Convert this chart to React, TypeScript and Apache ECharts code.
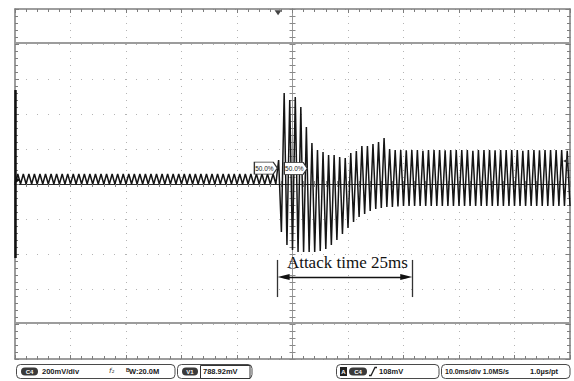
import React, { useEffect, useRef } from "react";
import * as echarts from "echarts";

// ---- Data read from the oscilloscope capture (C4, 200 mV/div, 10 ms/div) ----
// Pre-trigger ripple: trough / peak of every 1 ms cycle, in mV
const preTriggerTroughsMv = [
  2, 0, 0, 0, 0, 0, 0, 0, 0, 0, 0, 0, 0, 0, 0, 0, 0, 0, 0, 0, 0, 0, 0, 0,
  0, 0, 0, 0, 0, 0, 0, 0, 0, 0, 0, 0, 0, 0, 0, 0, 0, 0, 0, 0, 0, 0, 0, 0,
];
const preTriggerPeaksMv = [
  57, 57, 57, 57, 57, 57, 57, 57, 57, 57, 57, 57, 57, 57, 57, 57, 57, 57, 57, 57,
  57, 57, 57, 57, 57, 57, 57, 57, 57, 57, 57, 57, 57, 57, 57, 57, 57, 57, 57, 57,
  57, 57, 57, 57, 57, 57, 57,
];
// After the trigger: peak / trough of every 1 ms cycle, in mV
const burstPeaksMv = [
  137, 520, 480, 497, 440, 326, 234, 194, 183, 166, 166, 154, 149, 177, 189, 217,
  217, 229, 240, 263, 200, 194, 194, 192, 194, 194, 190, 194, 194, 194, 192, 194,
  194, 194, 194, 190, 194, 194, 194, 192, 194, 194, 194, 194, 190, 194, 194, 192,
  194, 194, 194, 194, 190,
];
const burstTroughsMv = [
  -274, -349, -377, -389, -389, -389, -389, -383, -371, -349, -320, -286, -251,
  -217, -189, -171, -154, -143, -137, -131, -131, -128, -126, -126, -126, -126,
  -126, -126, -126, -126, -126, -126, -126, -126, -126, -126, -126, -126, -126,
  -126, -126, -126, -126, -126, -126, -126, -126, -126, -126, -126, -126, -126,
  -126,
];
const traceStartMs = -50;
const halfCycleMs = 0.5;

// Axes (10 div x 10 div)
const timeRangeMs = [-50, 50];
const timeDivMs = 10;
const voltRangeMv = [-1000, 1000];
const voltDivMv = 200;

// Annotations
const cursorLevelsMv = [806, -794];
const triggerTimeMs = -2.6;
const attackStartMs = -2.7;
const attackEndMs = 21.6;
const attackText = "Attack time 25ms";
const percentLabel = "50.0%";

// Status bar texts
const chScale = "200mV/div";
const bwText = "W:20.0M";
const cursorText = "788.92mV";
const trigLevel = "108mV";
const timebase = "10.0ms/div 1.0MS/s";
const sampleText = "1.0\u00b5s/pt";

const extremes: number[] = [];
for (let i = 0; i < preTriggerTroughsMv.length; i++) {
  extremes.push(preTriggerTroughsMv[i]);
  if (i < preTriggerPeaksMv.length) extremes.push(preTriggerPeaksMv[i]);
}
for (let k = 0; k < burstPeaksMv.length; k++) {
  extremes.push(burstPeaksMv[k]);
  extremes.push(burstTroughsMv[k]);
}
const trace = extremes.map((v, i) => [traceStartMs + i * halfCycleMs, v]);

const BORDER = "#7d7d7d";
const SANS = '"Liberation Sans", Arial, sans-serif';
const font = (s: number, w = "bold") => `${w} ${s}px ${SANS}`;

function xAx(position: string, extra: any) {
  return {
    type: "value",
    min: timeRangeMs[0],
    max: timeRangeMs[1],
    interval: timeDivMs,
    position,
    axisLabel: { show: false },
    splitLine: { show: false },
    ...extra,
  };
}
function yAx(position: string, extra: any) {
  return {
    type: "value",
    min: voltRangeMv[0],
    max: voltRangeMv[1],
    interval: voltDivMv,
    position,
    axisLabel: { show: false },
    splitLine: { show: false },
    ...extra,
  };
}
const borderLine = { show: true, onZero: false, lineStyle: { color: BORDER, width: 1.5 } };
const tick = { show: true, inside: true, length: 4, lineStyle: { color: BORDER, width: 1 } };
const minor = { show: true, splitNumber: 5, length: 3, lineStyle: { color: BORDER, width: 1 } };
const cTick = { show: true, inside: true, length: 3, lineStyle: { color: "#888", width: 1 } };
const cMinor = { show: true, splitNumber: 5, length: 3, lineStyle: { color: "#888", width: 1 } };

function pill(x: number, w: number, label: string) {
  return [
    { type: "rect", shape: { x, y: 367.5, width: w, height: 8, r: 4 }, style: { fill: "#3a3a3a" } },
    {
      type: "text",
      x: x + w / 2,
      y: 371.5,
      style: { text: label, fill: "#fff", font: font(6), align: "center", verticalAlign: "middle" },
    },
  ];
}
function box(x: number, w: number) {
  return {
    type: "rect",
    shape: { x, y: 364.5, width: w, height: 14, r: 4 },
    style: { fill: "#fff", stroke: "#4a4a4a", lineWidth: 1 },
  };
}
function txt(x: number, text: string, size = 7.5, y = 371.5) {
  return {
    type: "text",
    x,
    y,
    style: { text, fill: "#1a1a1a", font: font(size), align: "left", verticalAlign: "middle" },
  };
}

export default function App() {
  const ref = useRef<HTMLDivElement>(null);
  useEffect(() => {
    if (!ref.current) return;
    const chart = echarts.init(ref.current, undefined, { renderer: "svg" });
    const labelBox = {
      symbol: "path://M0 0H18L22 6L18 12H0Z",
      symbolSize: [23, 12],
      itemStyle: { color: "#fff", borderColor: "#333", borderWidth: 1 },
      label: {
        show: true,
        formatter: percentLabel,
        position: "inside",
        offset: [-1.5, 0],
        fontSize: 6.5,
        fontFamily: SANS,
        color: "#222",
      },
    };
    chart.setOption({
      animation: false,
      backgroundColor: "#fff",
      grid: { left: 15, top: 9, width: 555, height: 350, containLabel: false },
      xAxis: [
        xAx("bottom", {
          axisLine: borderLine,
          axisTick: tick,
          minorTick: minor,
          splitLine: { show: true, lineStyle: { color: "#b4b4b4", width: 1, type: [1, 6] } },
        }),
        xAx("top", { axisLine: borderLine, axisTick: tick, minorTick: minor }),
        xAx("bottom", {
          axisLine: { show: true, onZero: true, onZeroAxisIndex: 0, lineStyle: { color: "#2a2a2a", width: 1 } },
          axisTick: cTick,
          minorTick: cMinor,
        }),
        xAx("top", {
          axisLine: { show: true, onZero: true, onZeroAxisIndex: 0, lineStyle: { color: "#2a2a2a", width: 1 } },
          axisTick: cTick,
          minorTick: cMinor,
        }),
      ],
      yAxis: [
        yAx("left", {
          axisLine: borderLine,
          axisTick: tick,
          minorTick: minor,
          splitLine: { show: true, lineStyle: { color: "#b4b4b4", width: 1, type: [1, 10] } },
        }),
        yAx("right", { axisLine: borderLine, axisTick: tick, minorTick: minor }),
        yAx("left", {
          axisLine: { show: true, onZero: true, onZeroAxisIndex: 0, lineStyle: { color: "#999", width: 1 } },
          axisTick: cTick,
          minorTick: cMinor,
        }),
        yAx("right", {
          axisLine: { show: true, onZero: true, onZeroAxisIndex: 0, lineStyle: { color: "#999", width: 1 } },
          axisTick: cTick,
          minorTick: cMinor,
        }),
      ],
      series: [
        {
          type: "line",
          data: trace,
          xAxisIndex: 0,
          yAxisIndex: 0,
          showSymbol: false,
          symbol: "none",
          z: 3,
          lineStyle: { color: "#151515", width: 1.5 },
          markLine: {
            silent: true,
            symbol: "none",
            label: { show: false },
            data: [
              [
                { coord: [timeRangeMs[0], 537], lineStyle: { color: "#111", width: 2.5, type: "solid" } },
                { coord: [timeRangeMs[0], -423] },
              ],
              { yAxis: cursorLevelsMv[0], lineStyle: { color: "#9c9c9c", width: 2, type: "solid" } },
              { yAxis: cursorLevelsMv[1], lineStyle: { color: "#9c9c9c", width: 2, type: "solid" } },
              [
                { coord: [attackStartMs, -434], lineStyle: { color: "#333", width: 1.3, type: "solid" } },
                { coord: [attackStartMs, -646] },
              ],
              [
                { coord: [attackEndMs, -434], lineStyle: { color: "#333", width: 1.3, type: "solid" } },
                { coord: [attackEndMs, -646] },
              ],
              [
                {
                  coord: [attackStartMs + 1.1, -531],
                  symbol: "triangle",
                  symbolSize: [6, 12],
                  lineStyle: { color: "#111", width: 1.3, type: "solid" },
                },
                { coord: [attackEndMs - 1.1, -531], symbol: "triangle", symbolSize: [6, 12] },
              ],
            ],
          },
          markPoint: {
            silent: true,
            data: [
              {
                coord: [triggerTimeMs, 978],
                symbol: "triangle",
                symbolRotate: 180,
                symbolSize: [7, 5],
                itemStyle: { color: "#444" },
                label: { show: false },
              },
              {
                coord: [-49.5, 23],
                symbol: "triangle",
                symbolRotate: -90,
                symbolSize: [6, 5],
                itemStyle: { color: "#111" },
                label: { show: false },
              },
              {
                coord: [49.2, 131],
                symbol: "triangle",
                symbolRotate: 90,
                symbolSize: [5, 5],
                itemStyle: { color: "#333" },
                label: { show: false },
              },
              { coord: [-4.8, 91], ...labelBox },
              { coord: [0.6, 89], ...labelBox },
              {
                coord: [-1.1, -451],
                symbol: "rect",
                symbolSize: 1,
                itemStyle: { color: "rgba(0,0,0,0)" },
                label: {
                  show: true,
                  formatter: attackText,
                  position: "right",
                  distance: 0,
                  fontFamily: '"Liberation Serif", "Times New Roman", serif',
                  fontSize: 17,
                  color: "#111",
                },
              },
            ],
          },
        },
      ],
      graphic: [
        box(16.5, 158.5),
        ...pill(21, 17, "C4"),
        txt(42, chScale),
        {
          type: "text",
          x: 109,
          y: 371,
          style: { text: "f\u2082", fill: "#333", font: `italic 7px "DejaVu Sans", sans-serif`, verticalAlign: "middle" },
        },
        txt(126, "B", 5, 369.5),
        txt(129, bwText),
        box(177.5, 74.5),
        ...pill(182, 16, "V1"),
        {
          type: "rect",
          shape: { x: 200.5, y: 365.5, width: 49.5, height: 13 },
          style: { fill: "#fff", stroke: "#333", lineWidth: 1 },
        },
        txt(203, cursorText),
        box(336.5, 102.5),
        { type: "rect", shape: { x: 340, y: 367, width: 7, height: 9 }, style: { fill: "#222" } },
        {
          type: "text",
          x: 343.5,
          y: 371.5,
          style: { text: "A", fill: "#fff", font: font(6), align: "center", verticalAlign: "middle" },
        },
        ...pill(349, 18, "C4"),
        {
          type: "polyline",
          shape: { points: [[369, 375.5], [371, 375.5], [375, 367.5], [377, 367.5]] },
          style: { stroke: "#222", lineWidth: 1.3, fill: null },
        },
        txt(379, trigLevel),
        box(441.5, 128.5),
        txt(445, timebase, 7),
        txt(530, sampleText),
      ],
    });
    return () => chart.dispose();
  }, []);
  return (
    <div
      ref={ref}
      style={{ position: "absolute", left: 0, top: 0, width: 574, height: 381, background: "#fff" }}
    />
  );
}
